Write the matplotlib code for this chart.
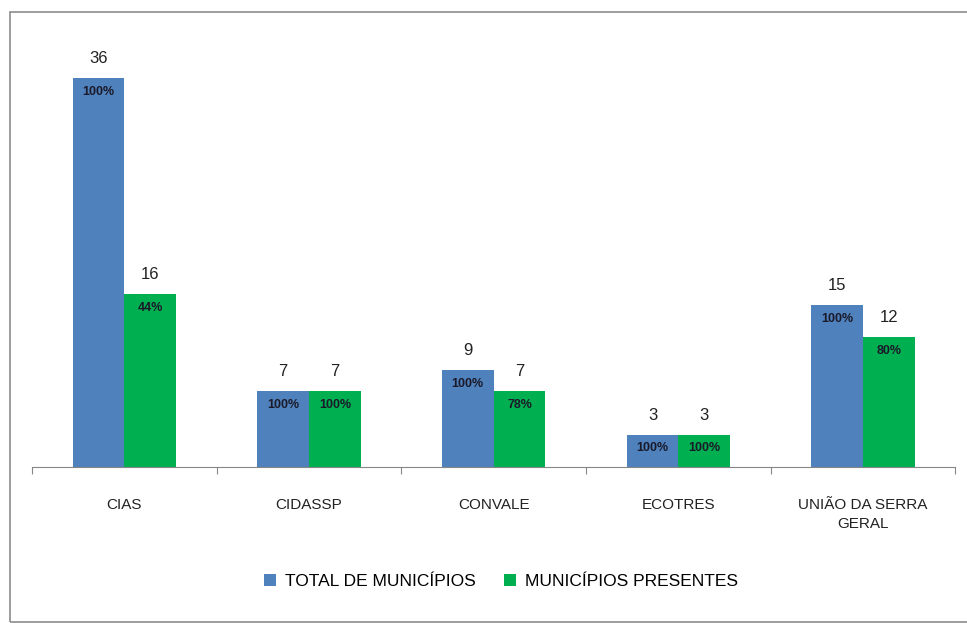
import matplotlib.pyplot as plt
import numpy as np
from matplotlib.patches import Rectangle

# dados
consorcios = ['CIAS', 'CIDASSP', 'CONVALE', 'ECOTRES', 'UNIÃO DA SERRA\nGERAL']
total = [36, 7, 9, 3, 15]
presentes = [16, 7, 7, 3, 12]
pct_total = ['100%', '100%', '100%', '100%', '100%']
pct_presentes = ['44%', '100%', '78%', '100%', '80%']
series = ['TOTAL DE MUNICÍPIOS', 'MUNICÍPIOS PRESENTES']

azul = '#4F81BD'
verde = '#00B050'

plt.rcParams['font.family'] = ['Liberation Sans', 'DejaVu Sans']

fig = plt.figure(figsize=(9.67, 6.23), dpi=100)
ax = fig.add_axes([0.033, 0.2504, 0.955, 0.694])

x = np.arange(len(consorcios))
w = 0.28
b1 = ax.bar(x - w / 2, total, w, color=azul, label=series[0])
b2 = ax.bar(x + w / 2, presentes, w, color=verde, label=series[1])

for bars, vals, pcts in [(b1, total, pct_total), (b2, presentes, pct_presentes)]:
    for r, v, p in zip(bars, vals, pcts):
        cx = r.get_x() + r.get_width() / 2
        ax.annotate(str(v), (cx, v), xytext=(0, 14), textcoords='offset points',
                    ha='center', va='center', fontsize=12, color='#222222')
        ax.annotate(p, (cx, v), xytext=(0, -10), textcoords='offset points',
                    ha='center', va='center', fontsize=9, fontweight='bold',
                    color='#1a1a2a')

ax.set_xlim(-0.5, len(consorcios) - 0.5)
ax.set_ylim(0, 40)
for s in ['top', 'right', 'left']:
    ax.spines[s].set_visible(False)
ax.spines['bottom'].set_color('#868686')
ax.set_yticks([])

# ticks nas divisas entre grupos
ax.set_xticks(np.arange(len(consorcios) + 1) - 0.5)
ax.set_xticklabels([])
ax.tick_params(axis='x', length=5, color='#868686', direction='out')
ax.set_xticks(x, minor=True)
ax.set_xticklabels(consorcios, minor=True, fontsize=11, color='#222222',
                   linespacing=1.5)
ax.tick_params(axis='x', which='minor', length=0, pad=22)

fig.legend(handles=[b1, b2], loc='center', bbox_to_anchor=(0.518, 0.067),
           ncol=2, frameon=False, fontsize=12.5, handlelength=0.7,
           handleheight=0.7, columnspacing=1.6, handletextpad=0.5)

fig.patches.append(Rectangle((10 / 967, 1 / 623), 1.0, 1 - 13 / 623,
                             transform=fig.transFigure, fill=False,
                             edgecolor='#8c8c8c', linewidth=1.2))

fig.savefig('out.png', dpi=100)
